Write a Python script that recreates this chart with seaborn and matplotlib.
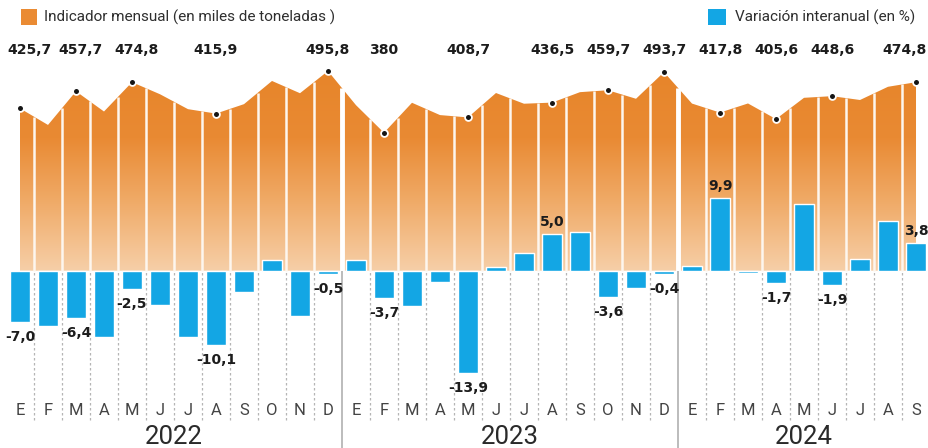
import numpy as np
import pandas as pd
import matplotlib
matplotlib.use("Agg")
import matplotlib.pyplot as plt
import seaborn as sns
from matplotlib.colors import LinearSegmentedColormap
from matplotlib.patches import Rectangle

# ---------------- data ----------------
meses = ["E", "F", "M", "A", "M", "J", "J", "A", "S", "O", "N", "D",
         "E", "F", "M", "A", "M", "J", "J", "A", "S", "O", "N", "D",
         "E", "F", "M", "A", "M", "J", "J", "A", "S"]
anios = ["2022", "2023", "2024"]
meses_por_anio = [12, 12, 9]
indicador = [425.7, 394.6, 457.7, 419.8, 474.8, 452.2, 424.2, 415.9, 433.6, 477.1, 454.1, 495.8,
             431.7, 380.0, 436.2, 413.1, 408.7, 454.5, 434.4, 436.5, 456.1, 459.7, 443.7, 493.7,
             434.7, 417.8, 434.9, 405.6, 445.5, 448.6, 441.4, 466.2, 474.8]
variacion = [-7.0, -7.5, -6.4, -9.0, -2.5, -4.7, -9.0, -10.1, -2.9, 1.4, -6.1, -0.5,
             1.4, -3.7, -4.8, -1.6, -13.9, 0.5, 2.4, 5.0, 5.2, -3.6, -2.3, -0.4,
             0.6, 9.9, -0.3, -1.7, 9.0, -1.9, 1.6, 6.8, 3.8]
idx_etiquetas = [0, 2, 4, 7, 11, 13, 16, 19, 21, 23, 25, 27, 29, 32]
etiquetas_indicador = ["425,7", "457,7", "474,8", "415,9", "495,8", "380", "408,7",
                       "436,5", "459,7", "493,7", "417,8", "405,6", "448,6", "474,8"]
etiquetas_variacion = ["-7,0", "-6,4", "-2,5", "-10,1", "-0,5", "-3,7", "-13,9",
                       "5,0", "-3,6", "-0,4", "9,9", "-1,7", "-1,9", "3,8"]
leyenda = ["Indicador mensual (en miles de toneladas )", "Variación interanual (en %)"]

# ---------------- style ----------------
NARANJA = "#EA8B33"
AZUL = "#13A6E4"
W, H = 929, 448
PX_PER_MONTH = 28.0
XLIM = (-0.714, 32.464)
YLIM_IND = (-211.5, 629.0)
YLIM_VAR = (-24.09, 36.78)
top_label_shift_px = {0: 10, 2: 4.5, 4: 5, 32: -12}

sns.set_style("white")
plt.rcParams["font.family"] = ["Roboto", "DejaVu Sans"]

fig = plt.figure(figsize=(W / 100, H / 100), dpi=100)
ax = fig.add_axes([0, 0, 1, 1])
ax2 = ax.twinx()

df = pd.DataFrame({"i": np.arange(len(meses)), "mes": meses,
                   "indicador": indicador, "variacion": variacion})
x = df["i"].to_numpy()

# baseline of the orange area = level where variation zero lies
frac0 = (0 - YLIM_VAR[0]) / (YLIM_VAR[1] - YLIM_VAR[0])
base = YLIM_IND[0] + frac0 * (YLIM_IND[1] - YLIM_IND[0])

# ---- orange gradient area ----
poly = ax.fill_between(x, base, df["indicador"], facecolor="none", edgecolor="none")
grad = np.linspace(0, 1, 256).reshape(-1, 1)
cmap = LinearSegmentedColormap.from_list("o", ["#F6CFA8", "#F0AC6A", "#E98A33", "#E7852A"])
im = ax.imshow(grad, extent=[x[0], x[-1], base, max(indicador)], origin="lower",
               aspect="auto", cmap=cmap, zorder=1)
im.set_clip_path(poly.get_paths()[0], transform=ax.transData)

# white separators inside area (stop at the curve)
bounds = x[:-1] + 0.5
cum = np.cumsum(meses_por_anio)[:-1] - 0.5
month_bounds = np.array([b for b in bounds if b not in cum])
curve_at = np.interp(month_bounds, x, df["indicador"])
ax.vlines(month_bounds, base, curve_at, colors="#FDF6EE", lw=1.8, zorder=2)
ax.vlines(cum, base, np.interp(cum, x, df["indicador"]), colors="white", lw=3.5, zorder=2)

# dots
sel = df.iloc[idx_etiquetas]
sns.scatterplot(x=sel["i"], y=sel["indicador"], color="#151515", s=24,
                edgecolor="white", linewidth=1.3, ax=ax, zorder=5, legend=False)

# top labels
for k, (i, t) in enumerate(zip(idx_etiquetas, etiquetas_indicador)):
    dx = top_label_shift_px.get(i, 0) / PX_PER_MONTH
    ax.text(i + dx, 1 - 50 / H, t, transform=ax.get_xaxis_transform(),
            ha="center", va="center", fontsize=10.1, fontweight="bold",
            color="#1c1c1c", family="DejaVu Sans", zorder=6)

# month & year labels
for i, m in zip(x, meses):
    ax.text(i, 1 - 410 / H, m, transform=ax.get_xaxis_transform(), ha="center",
            va="center", fontsize=12, color="#444444")
start = 0
for a, n in zip(anios, meses_por_anio):
    centro = start + (n - 1) / 2
    ax.text(centro, 1 - 437 / H, a, transform=ax.get_xaxis_transform(), ha="center",
            va="center", fontsize=18.5, color="#2a2a2a")
    start += n

ax.set_xlim(*XLIM)
ax.set_ylim(*YLIM_IND)
ax.axis("off")

# ---- bars (variation) ----
sns.barplot(x=df["i"], y=df["variacion"], color=AZUL, saturation=1, width=0.72,
            ax=ax2, errorbar=None, zorder=3)
ax2.set_ylim(*YLIM_VAR)
ybot = YLIM_VAR[0] + (YLIM_VAR[1] - YLIM_VAR[0]) * (1 - 420 / H)
ax2.vlines(month_bounds, ybot, 0, colors="#b5b5b5", lw=0.9, linestyles=(0, (2, 2)), zorder=1)
ax2.vlines(cum, YLIM_VAR[0], 0, colors="#b0b0b0", lw=1.2, zorder=1)

for i, t in zip(idx_etiquetas, etiquetas_variacion):
    v = variacion[i]
    off = 8.3 if v > 0 else -10.8
    ax2.annotate(t, (i, v), xytext=(0, off), textcoords="offset points",
                 ha="center", va="center", fontsize=10, fontweight="bold",
                 color="#1c1c1c", family="DejaVu Sans", zorder=6)

ax2.set_xlim(*XLIM)
ax2.axis("off")

# ---- legend ----
fig.patches.append(Rectangle((20.7 / W, 1 - 25 / H), 16 / W, 15.5 / H,
                             transform=fig.transFigure, facecolor=NARANJA, edgecolor="none"))
fig.text(44 / W, 1 - 17.5 / H, leyenda[0], ha="left", va="center", fontsize=11, color="#2e2e2e")
fig.patches.append(Rectangle((708 / W, 1 - 25 / H), 18 / W, 15.5 / H,
                             transform=fig.transFigure, facecolor=AZUL, edgecolor="none"))
fig.text(735 / W, 1 - 17.5 / H, leyenda[1], ha="left", va="center", fontsize=11, color="#2e2e2e")

fig.savefig("out.png", dpi=100)
